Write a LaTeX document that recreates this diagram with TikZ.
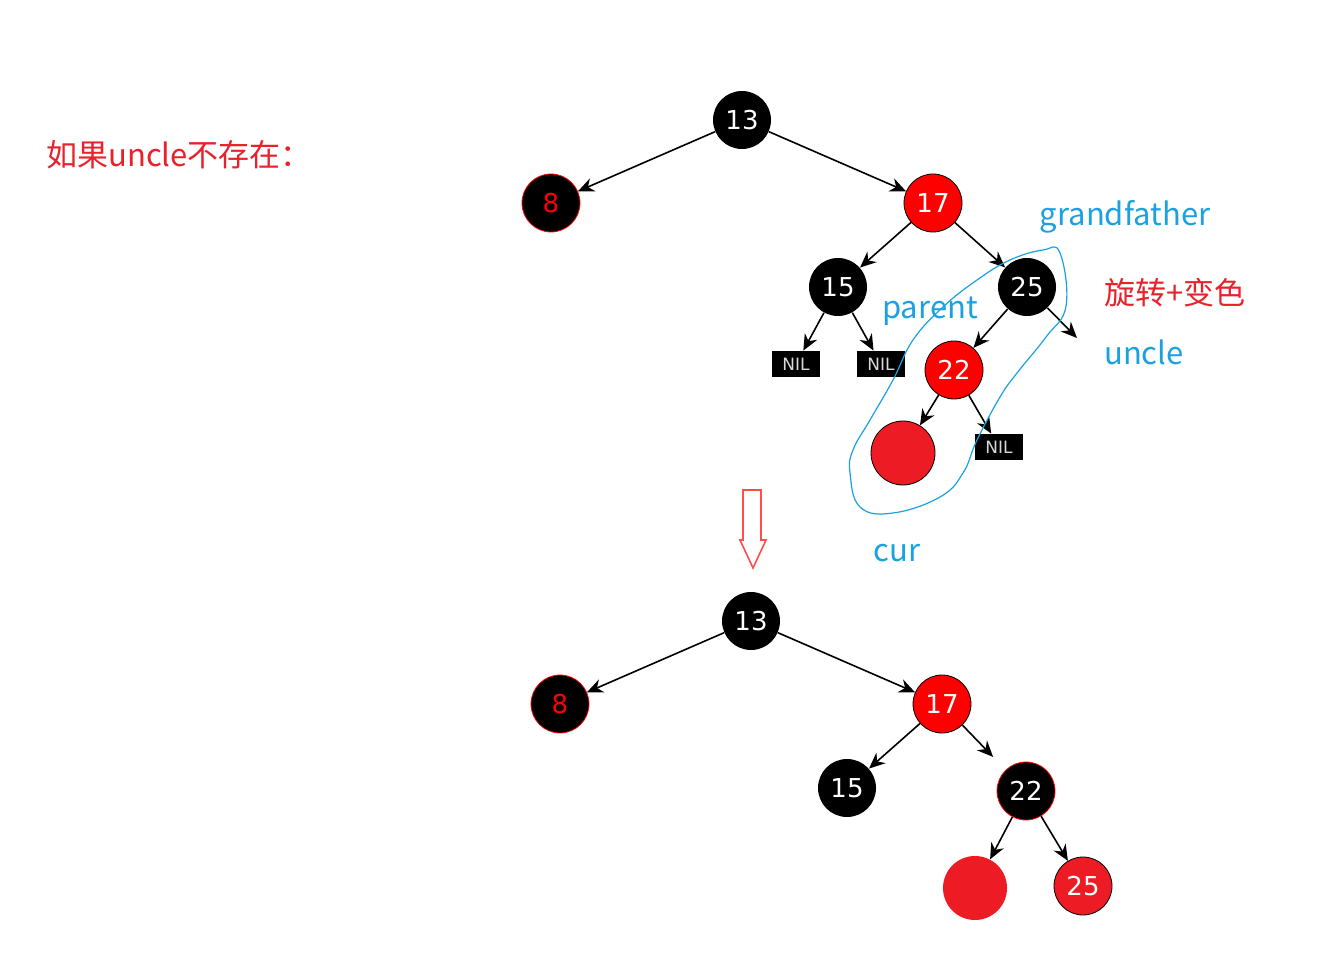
\documentclass[tikz,border=0pt]{standalone}
\usepackage{fontspec}
\usepackage{xcolor}
\usetikzlibrary{arrows.meta}
\newfontfamily\cjk{Noto Sans CJK SC}
\newfontfamily\digits{DejaVu Sans}
\definecolor{nodered}{HTML}{FF0000}
\definecolor{curred}{HTML}{ED1C24}
\definecolor{labelblue}{HTML}{1BA1E2}
\definecolor{titlered}{HTML}{E8212B}

\begin{document}
\begin{tikzpicture}[x=0.5pt,y=-0.5pt,
  blk/.style={circle,fill=black,minimum size=29pt,inner sep=0pt,
              font=\digits\fontsize{13}{15}\selectfont,text=white},
  rednode/.style={blk,fill=nodered,draw=black,thin},
  blkred/.style={blk,draw=nodered,thin},
  nil/.style={fill=black,minimum width=24pt,minimum height=13pt,inner sep=0pt,
              text=white!85!black,font=\digits\fontsize{8.5}{9}\selectfont},
  curnode/.style={circle,fill=curred,minimum size=32pt,inner sep=0pt},
  lbl/.style={font=\cjk\fontsize{15.5}{18}\selectfont,text=labelblue},
  arr/.style={-{Stealth[length=8pt,width=7pt]},line width=0.8pt}
]
  \useasboundingbox (0,0) rectangle (1321,978);
  \node[font=\cjk\fontsize{15.5}{18}\selectfont,text=titlered,anchor=west,inner sep=0pt]
    (title) at (46,155) {如果uncle不存在：};

  % before
  \node[blk] (t13) at (742,120) {13};
  \node[blkred,text=nodered] (t8) at (551,203) {8};
  \node[rednode] (t17) at (933,203) {17};
  \node[blk] (t15) at (838,287) {15};
  \node[blk] (t25) at (1027,287) {25};
  \node[nil] (tnil1) at (796,364) {NIL};
  \node[nil] (tnil2) at (881,364) {NIL};
  \node[rednode] (t22) at (954,370) {22};
  \node[curnode,draw=black,thin] (tcur) at (903,453) {};
  \node[nil] (tnil3) at (999,447) {NIL};
  \coordinate (tuncle) at (1077,338);
  \foreach \a/\b in {t13/t8,t13/t17,t17/t15,t17/t25,t15/tnil1,t15/tnil2,
                     t25/t22,t25/tuncle,t22/tcur,t22/tnil3}
    \draw[arr] (\a)--(\b);

  \node[lbl] (grandfather) at (1125,217) {grandfather};
  \node[font=\cjk\fontsize{15.5}{18}\selectfont,text=titlered] (rotate) at (1175,293) {旋转+变色};
  \node[lbl] (uncle) at (1144,352) {uncle};
  \node[lbl] (parent) at (930,311) {parent};
  \node[lbl] (cur) at (897,553) {cur};

  \draw[labelblue,line width=0.6pt] plot[smooth cycle,tension=0.7] coordinates {
    (1060,253) (1066,306) (1046,337) (1017,373) (1000,397) (977,440) (963,473)
    (940,497) (893,513) (860,507) (850,473) (853,450) (870,420) (893,380)
    (913,340) (943,307) (977,280) (1010,260) (1043,250)};

  % hollow arrow
  \draw[nodered!70,line width=0.8pt] (743,490) -- (761,490) -- (761,540) -- (766,540)
    -- (753,568) -- (740,540) -- (743,540) -- cycle;

  % after
  \node[blk] (b13) at (751,621) {13};
  \node[blkred,text=nodered] (b8) at (560,704) {8};
  \node[rednode] (b17) at (942,704) {17};
  \node[blk] (b15) at (847,788) {15};
  \node[blkred] (b22) at (1026,791) {22};
  \node[curnode] (bcur) at (975,888) {};
  \node[blk,fill=curred,draw=black,thin] (b25) at (1083,886) {25};
  \foreach \a/\b in {b13/b8,b13/b17,b17/b15,b22/bcur,b22/b25}
    \draw[arr] (\a)--(\b);
  \draw[arr,shorten >=9pt] (b17)--(b22);
\end{tikzpicture}
\end{document}
